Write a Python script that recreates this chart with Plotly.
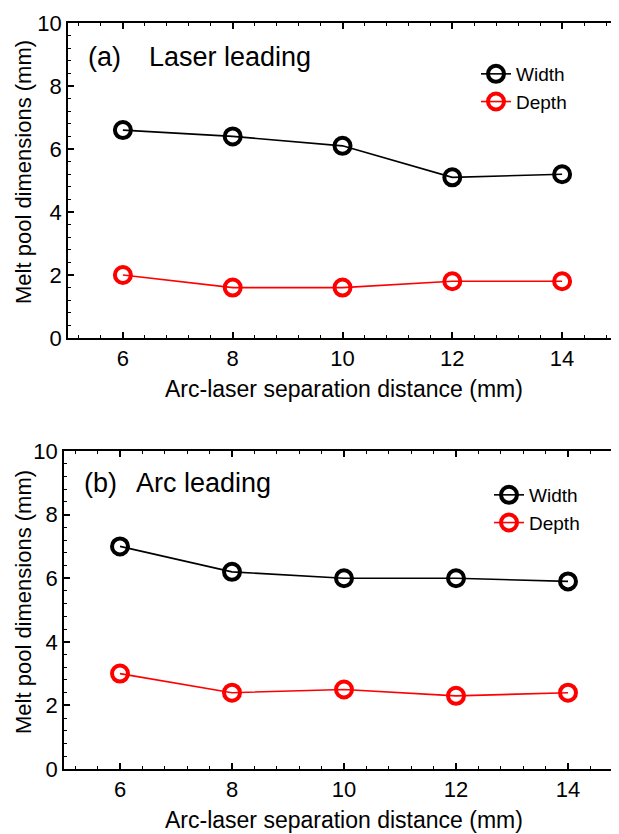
import plotly.graph_objects as go

distance = [6, 8, 10, 12, 14]
width_laser_leading = [6.6, 6.4, 6.1, 5.1, 5.2]
depth_laser_leading = [2.0, 1.6, 1.6, 1.8, 1.8]
width_arc_leading = [7.0, 6.2, 6.0, 6.0, 5.9]
depth_arc_leading = [3.0, 2.4, 2.5, 2.3, 2.4]
x_ticks = [6, 8, 10, 12, 14]
y_ticks = [0, 2, 4, 6, 8, 10]

W, H = 619, 834
OFF = 8  # page body margin
FONT = "Arial, Liberation Sans, sans-serif"

def px(x):
    return (x - OFF) / W

def py(y):
    return 1 - (y - OFF) / H

fig = go.Figure()

marker_w = dict(symbol="circle-open", size=16, color="black", line=dict(width=4, color="black"))
marker_d = dict(symbol="circle-open", size=16, color="red", line=dict(width=4, color="red"))

fig.add_trace(go.Scatter(x=distance, y=width_laser_leading, mode="lines+markers", name="Width",
                         line=dict(color="black", width=1.6), marker=marker_w,
                         xaxis="x", yaxis="y", legend="legend"))
fig.add_trace(go.Scatter(x=distance, y=depth_laser_leading, mode="lines+markers", name="Depth",
                         line=dict(color="red", width=1.6), marker=marker_d,
                         xaxis="x", yaxis="y", legend="legend"))
fig.add_trace(go.Scatter(x=distance, y=width_arc_leading, mode="lines+markers", name="Width",
                         line=dict(color="black", width=1.6), marker=marker_w,
                         xaxis="x2", yaxis="y2", legend="legend2"))
fig.add_trace(go.Scatter(x=distance, y=depth_arc_leading, mode="lines+markers", name="Depth",
                         line=dict(color="red", width=1.6), marker=marker_d,
                         xaxis="x2", yaxis="y2", legend="legend2"))

axis_common = dict(
    showline=True, linecolor="black", linewidth=1.5, showgrid=False, zeroline=False,
    automargin=False,
    ticks="inside", ticklen=6, tickwidth=1.5, tickcolor="black",
    tickfont=dict(family=FONT, size=22, color="black"),
    minor=dict(ticks="inside", ticklen=3, tickwidth=1, tickcolor="black", dtick=0.4, tick0=0),
)

legend_common = dict(xanchor="left", yanchor="top", bgcolor="rgba(0,0,0,0)",
                     font=dict(family=FONT, size=19, color="black"),
                     tracegroupgap=0, itemsizing="trace")

fig.update_layout(
    template="none",
    width=W, height=H, margin=dict(l=0, r=0, t=0, b=0, autoexpand=False),
    paper_bgcolor="white", plot_bgcolor="white",
    xaxis=dict(axis_common, domain=[px(68), px(617)], range=[5, 15], anchor="y",
               tickvals=x_ticks, mirror="ticks"),
    yaxis=dict(axis_common, domain=[py(338), py(23)], range=[0, 10], anchor="x",
               tickvals=y_ticks, mirror="ticks"),
    xaxis2=dict(axis_common, domain=[px(64), 1], range=[5, 5 + (W + OFF - 64) / 56.0], anchor="y2",
                tickvals=x_ticks, mirror="ticks"),
    yaxis2=dict(axis_common, domain=[py(769), py(451)], range=[0, 10], anchor="x2",
                tickvals=y_ticks, mirror=False),
    legend=dict(legend_common, x=px(476), y=py(55)),
    legend2=dict(legend_common, x=px(489), y=py(476)),
    showlegend=True,
)

annotations = [
    dict(text="(a)", x=px(86), y=py(57), xanchor="left", yanchor="middle", font=dict(size=27)),
    dict(text="Laser leading", x=px(147), y=py(57), xanchor="left", yanchor="middle", font=dict(size=27)),
    dict(text="(b)", x=px(82), y=py(483), xanchor="left", yanchor="middle", font=dict(size=27)),
    dict(text="Arc leading", x=px(134), y=py(483), xanchor="left", yanchor="middle", font=dict(size=27)),
    dict(text="Arc-laser separation distance (mm)", x=px(344), y=py(389), xanchor="center", yanchor="middle", font=dict(size=23)),
    dict(text="Arc-laser separation distance (mm)", x=px(344), y=py(820), xanchor="center", yanchor="middle", font=dict(size=23)),
    dict(text="Melt pool dimensions (mm)", x=px(23), y=py(172), xanchor="center", yanchor="middle", textangle=-90, font=dict(size=22)),
    dict(text="Melt pool dimensions (mm)", x=px(23), y=py(602), xanchor="center", yanchor="middle", textangle=-90, font=dict(size=22)),
]
for a in annotations:
    a.update(xref="paper", yref="paper", showarrow=False)
    a["font"].update(family=FONT, color="black")
fig.update_layout(annotations=annotations)

fig.write_html("out.html")
